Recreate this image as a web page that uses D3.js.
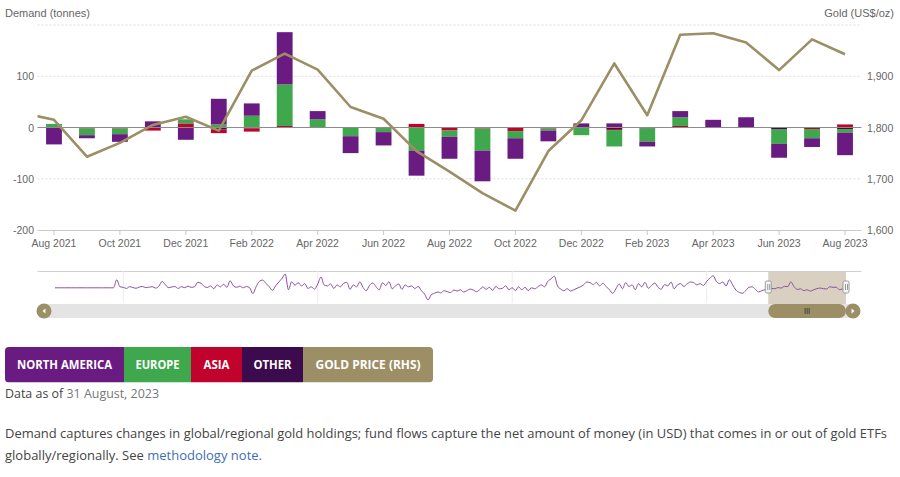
<!DOCTYPE html>
<html><head><meta charset="utf-8">
<script src="https://cdn.jsdelivr.net/npm/d3@7"></script>
<style>body{margin:0;background:#fff;} svg{display:block;}</style>
</head><body><svg id="c" width="900" height="477"></svg>
<script>
// ---------- DATA ----------
const months = ["Aug 2021","Sep 2021","Oct 2021","Nov 2021","Dec 2021","Jan 2022","Feb 2022","Mar 2022","Apr 2022","May 2022","Jun 2022","Jul 2022","Aug 2022","Sep 2022","Oct 2022","Nov 2022","Dec 2022","Jan 2023","Feb 2023","Mar 2023","Apr 2023","May 2023","Jun 2023","Jul 2023","Aug 2023"];
const northAmerica = [-33,-6,-15,11,-24,50,24,102,16,-33,-26,-49,-43,-60,-40,-21,8,8,-9,12,15,20,-27,-17,-44];
const europe       = [7,-13,-11,0,8,6,23,81,16,-17,-7,-44,-12,-43,-14,-4,-14,-32,-26,17,0,0,-28,-18,-7];
const asia         = [0,-1,-1,-6,8,-7,-6,3,0,0,0,7,-5,-2,-6,-2,-1,-2,0,3,0,0,0,-3,6];
const other        = [0,-1,-1,1,0,-4,-2,0,0,0,-2,-1,-1,0,-1,0,0,-3,-2,0,0,-1,-4,0,-3];
const goldMonths = ["Jul 2021"].concat(months);
const goldPrice  = [1829,1815,1743,1770,1805,1821,1794,1911,1944,1913,1840,1817,1754,1714,1672,1638,1754,1814,1925,1824,1981,1984,1966,1912,1972,1943];
const leftTicks  = [-200,-100,0,100,200];
const rightTicks = [1600,1700,1800,1900,2000];
const xTickLabels = ["Aug 2021","Oct 2021","Dec 2021","Feb 2022","Apr 2022","Jun 2022","Aug 2022","Oct 2022","Dec 2022","Feb 2023","Apr 2023","Jun 2023","Aug 2023"];
// navigator: monthly total demand from Apr 2003 to Jul 2021 (estimated from the overview strip)
const navStart = [2003, 3];
const navHistory = [0,0,0,0,0,0,0,0,0,0,0,0,0,0,0,0,0,0,0,250,30,
 15,-20,35,10,-15,25,40,5,20,35,-10,
 50,200,90,5,
 25,40,-20,35,5,50,15,30,
 170,140,40,10,
 60,-30,90,30,110,15,
 220,60,
 15,50,0,40,5,
 -180,30,
 200,240,140,
 40,-80,60,
 180,300,
 430,-60,
 190,80,160,60,130,
 -20,30,-40,
 120,340,90,
 60,120,-20,90,30,140,
 170,-50,90,30,190,15,-90,70,150,40,
 -60,160,
 70,190,-30,60,120,-50,90,
 30,60,-20,40,
 -90,-200,
 -380,-220,
 -170,-130,-160,-90,-120,-150,-70,-100,-60,-130,-90,-40,-70,-120,-60,
 30,-50,15,-80,40,-30,-15,60,-60,0,-90,30,
 -60,15,-90,0,-30,40,90,30,
 200,280,360,
 60,
 -40,-90,-30,-100,-60,-15,
 30,90,180,160,100,170,60,140,40,
 -60,-170,-30,
 120,-30,160,40,90,-60,130,30,170,-15,70,150,15,-40,100,60,180,-30,90,130,40,120,
 180,160,90,130,
 70,200,300,
 380,
 200,130,
 180,
 60,250,
 90,-70,-140,-170,
 -90,15,30,
 -40,-130,-90,-60];
const navYearTicks = [2005, 2010, 2015, 2020];
const legendItems = ["NORTH AMERICA","EUROPE","ASIA","OTHER","GOLD PRICE (RHS)"];

// ---------- STYLE ----------
const colors = {northAmerica:"#6a1b82", europe:"#3fa84d", asia:"#c0022c", other:"#3b0b4d", gold:"#9c8f66"};
const legendColors = [colors.northAmerica, colors.europe, colors.asia, colors.other, colors.gold];
const axisFont = "'Liberation Sans', Arial, sans-serif";
const bodyFont = "'Open Sans', 'Noto Sans', sans-serif";

const svg = d3.select("#c");
svg.append("rect").attr("width",900).attr("height",477).attr("fill","#fff");

const plotL = 37.5, plotR = 861.5, plotT = 25, plotB = 230;
const x = d3.scaleBand().domain(months).range([plotL, plotR]).paddingInner(0.52).paddingOuter(0.26);
const yL = d3.scaleLinear().domain([-200,200]).range([plotB, plotT]);
const yR = d3.scaleLinear().domain([1600,2000]).range([plotB, plotT]);
const cx = m => x(m) + x.bandwidth()/2;

// gridlines
svg.append("g").selectAll("line").data(leftTicks.filter(t => t !== -200 && t !== 0)).join("line")
  .attr("x1", plotL).attr("x2", plotR).attr("y1", d => yL(d)).attr("y2", d => yL(d))
  .attr("stroke", "#dcdcdc").attr("stroke-dasharray", "2,2");

// axis titles
svg.append("text").attr("x", 5).attr("y", 17).attr("font-family", axisFont).attr("font-size", 11).attr("fill", "#666").text("Demand (tonnes)");
svg.append("text").attr("x", 894).attr("y", 17).attr("text-anchor","end").attr("font-family", axisFont).attr("font-size", 11).attr("fill", "#666").text("Gold (US$/oz)");

// left labels
svg.append("g").selectAll("text").data(leftTicks.filter(t => t !== 200)).join("text")
  .attr("x", 34).attr("y", d => yL(d) + 4).attr("text-anchor","end")
  .attr("font-family", axisFont).attr("font-size", 10.5).attr("fill", "#666").text(d => d);
// right labels
svg.append("g").selectAll("text").data(rightTicks.filter(t => t !== 2000)).join("text")
  .attr("x", 867).attr("y", d => yR(d) + 4).attr("text-anchor","start")
  .attr("font-family", axisFont).attr("font-size", 10.5).attr("fill", "#666").text(d => d3.format(",")(d));

// bars
const rows = months.map((m,i) => ({month:m, northAmerica:northAmerica[i], europe:europe[i], asia:asia[i], other:other[i]}));
const stacked = d3.stack().keys(["other","asia","europe","northAmerica"]).offset(d3.stackOffsetDiverging)(rows);
svg.append("g").selectAll("g").data(stacked).join("g").attr("fill", s => colors[s.key])
  .selectAll("rect").data(s => s).join("rect")
  .attr("x", d => x(d.data.month)).attr("width", x.bandwidth())
  .attr("y", d => yL(Math.max(d[0], d[1])))
  .attr("height", d => Math.abs(yL(d[0]) - yL(d[1])));

// zero line
svg.append("line").attr("x1", plotL).attr("x2", plotR).attr("y1", yL(0)).attr("y2", yL(0)).attr("stroke", "#8c8c8c").attr("stroke-width", 1);

// x axis
const xAxis = d3.axisBottom(x).tickValues(xTickLabels).tickSize(5).tickSizeOuter(0);
const gx = svg.append("g").attr("transform", `translate(0,${plotB})`).call(xAxis);
gx.select(".domain").attr("stroke", "#c8c8c8").attr("d", `M${plotL},0.5H${plotR}`);
gx.selectAll(".tick line").attr("stroke", "#c8c8c8");
gx.selectAll(".tick text").attr("font-family", axisFont).attr("font-size", 10.5).attr("fill", "#666").attr("dy", "0.9em");

// gold line
svg.append("clipPath").attr("id","plotClip").append("rect").attr("x", plotL).attr("y", 0).attr("width", plotR-plotL).attr("height", plotB+5);
const xi = d3.scaleLinear().domain([0, months.length-1]).range([cx(months[0]), cx(months[months.length-1])]);
const goldLine = d3.line().x((d,i) => xi(i-1)).y(d => yR(d));
svg.append("path").attr("clip-path","url(#plotClip)").datum(goldPrice).attr("d", goldLine)
  .attr("fill","none").attr("stroke", colors.gold).attr("stroke-width", 2.6).attr("stroke-linejoin","round");

// ---------- NAVIGATOR ----------
const totals = months.map((m,i) => northAmerica[i] + europe[i] + asia[i] + other[i]);
const navValues = navHistory.concat(totals);
const navDates = navValues.map((v,i) => new Date(navStart[0], navStart[1] + i, 1));
const navX = d3.scaleTime().domain([navDates[0], navDates[navDates.length-1]]).range([55, 846]);
const navY = d3.scaleLinear().domain(d3.extent(navValues)).range([300, 274]);
const navTop = 271, navBot = 303;
svg.append("line").attr("x1", plotL).attr("x2", plotR).attr("y1", navTop+0.5).attr("y2", navTop+0.5).attr("stroke", "#d0d0d0");
svg.append("g").selectAll("line").data(navYearTicks).join("line")
  .attr("x1", d => navX(new Date(d,0,1))).attr("x2", d => navX(new Date(d,0,1)))
  .attr("y1", navTop).attr("y2", navBot).attr("stroke", "#ececec");
const selStart = navX(navDates[navHistory.length]), selEnd = navX(navDates[navDates.length-1]);
svg.append("rect").attr("x", selStart).attr("y", navTop+1).attr("width", selEnd-selStart).attr("height", navBot-navTop)
  .attr("fill", "#d9d0c1");
svg.append("path").datum(navValues)
  .attr("d", d3.line().x((d,i) => navX(navDates[i])).y(d => navY(d)).curve(d3.curveMonotoneX))
  .attr("fill","none").attr("stroke", "#8e4fa3").attr("stroke-width", 1);
// handles
[selStart, selEnd].forEach(hx => {
  svg.append("rect").attr("x", hx-3).attr("y", 281).attr("width", 6).attr("height", 12).attr("rx", 1.5)
    .attr("fill", "#f4f4f4").attr("stroke", "#999");
  svg.append("line").attr("x1", hx-0.5).attr("x2", hx-0.5).attr("y1", 284).attr("y2", 290).attr("stroke", "#999");
  svg.append("line").attr("x1", hx+1.5).attr("x2", hx+1.5).attr("y1", 284).attr("y2", 290).attr("stroke", "#999");
});
// scrollbar
const sbY = 304, sbH = 14;
svg.append("rect").attr("x", 44).attr("y", sbY).attr("width", 853-44).attr("height", sbH).attr("fill", "#e4e4e4");
svg.append("rect").attr("x", selStart).attr("y", sbY).attr("width", selEnd-selStart).attr("height", sbH).attr("rx", 7)
  .attr("fill", colors.gold);
const gripX = (selStart + selEnd)/2;
[-2,0,2].forEach(o => svg.append("line").attr("x1", gripX+o).attr("x2", gripX+o).attr("y1", sbY+4).attr("y2", sbY+10).attr("stroke", "#333").attr("stroke-width", 0.8));
[[44,-1],[853,1]].forEach(([bx,dir]) => {
  svg.append("circle").attr("cx", bx).attr("cy", sbY+sbH/2).attr("r", 7.5).attr("fill", colors.gold);
  svg.append("path").attr("d", `M${bx-dir*1.5},${sbY+sbH/2-2.5}L${bx+dir*1.5},${sbY+sbH/2}L${bx-dir*1.5},${sbY+sbH/2+2.5}Z`).attr("fill", "#fff");
});

// ---------- LEGEND ----------
const legEdges = [5,124,191,242,303,433];
const legTextW = [95,44,26,38,105];
const legY = 347, legH = 35.5;
svg.append("clipPath").attr("id","legClip").append("rect").attr("x", legEdges[0]).attr("y", legY).attr("width", legEdges[5]-legEdges[0]).attr("height", legH).attr("rx", 4);
const lg = svg.append("g").attr("clip-path","url(#legClip)");
legendItems.forEach((t,i) => {
  lg.append("rect").attr("x", legEdges[i]).attr("y", legY).attr("width", legEdges[i+1]-legEdges[i]).attr("height", legH).attr("fill", legendColors[i]);
  lg.append("text").attr("x", (legEdges[i]+legEdges[i+1])/2).attr("y", legY + legH/2 + 4.3).attr("text-anchor","middle")
    .attr("font-family", bodyFont).attr("font-weight", 700).attr("font-size", 12).attr("fill", "#fff")
    .attr("textLength", legTextW[i]).attr("lengthAdjust","spacingAndGlyphs").text(t);
});

// ---------- NOTES ----------
const dt = svg.append("text").attr("x", 5).attr("y", 398).attr("font-family", bodyFont).attr("font-size", 12.5)
  .attr("textLength", 154).attr("lengthAdjust","spacingAndGlyphs");
dt.append("tspan").attr("fill", "#444").text("Data as of ");
dt.append("tspan").attr("fill", "#777").text("31 August, 2023");

svg.append("text").attr("x", 5).attr("y", 438).attr("font-family", bodyFont).attr("font-size", 12.5).attr("fill", "#444")
  .attr("textLength", 882).attr("lengthAdjust","spacingAndGlyphs")
  .text("Demand captures changes in global/regional gold holdings; fund flows capture the net amount of money (in USD) that comes in or out of gold ETFs");
const l2 = svg.append("text").attr("x", 5).attr("y", 460).attr("font-family", bodyFont).attr("font-size", 12.5)
  .attr("textLength", 257).attr("lengthAdjust","spacingAndGlyphs");
l2.append("tspan").attr("fill", "#444").text("globally/regionally. See ");
l2.append("tspan").attr("fill", "#3f6db3").text("methodology note.");
</script>
</body></html>
